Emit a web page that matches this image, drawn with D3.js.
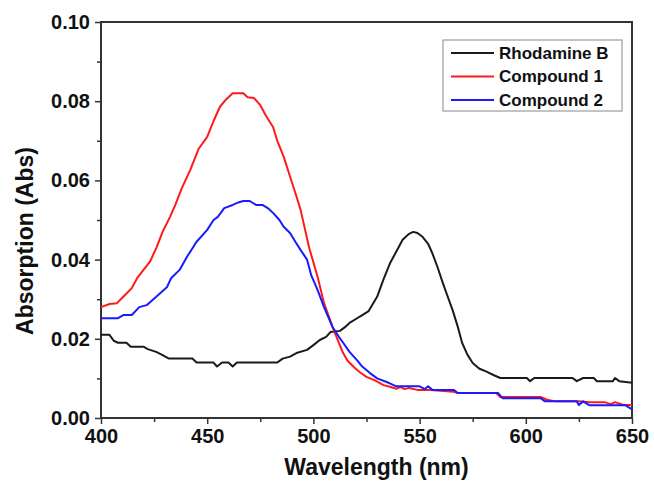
<!DOCTYPE html>
<html>
<head>
<meta charset="utf-8">
<script src="https://cdn.jsdelivr.net/npm/d3@7"></script>
<style>
  body { margin: 0; background: #fff; }
  text { font-family: Arial, "Liberation Sans", sans-serif; font-weight: bold; fill: #111; }
</style>
</head>
<body>
<script>
// Rhodamine B
var rhodWl = [400, 404, 406, 408, 412, 414, 420, 422, 426, 429, 432, 443, 445, 453, 454.6, 457, 460, 462, 464, 483,
  485.5, 489, 492, 497, 500, 503, 506, 508, 512.5, 515, 517, 520, 523, 526, 530, 533, 536, 539, 542, 545, 547, 549,
  551.5, 554, 556, 558.5, 561, 563, 565.5, 568, 570, 572.5, 575, 578, 581.5, 585, 588, 600.5, 602, 604, 622, 624,
  627, 632, 633.5, 641, 642, 644, 650];
var rhodAbs = [0.021, 0.021, 0.0195, 0.019, 0.019, 0.018, 0.018, 0.0174, 0.0167, 0.0159, 0.015, 0.015, 0.014, 0.014,
  0.013, 0.014, 0.014, 0.013, 0.014, 0.014, 0.015, 0.0155, 0.0164, 0.0172, 0.0184, 0.0197, 0.0205, 0.0217, 0.022,
  0.023, 0.024, 0.025, 0.026, 0.027, 0.0306, 0.035, 0.039, 0.042, 0.045, 0.0465, 0.047, 0.0467, 0.0457, 0.044,
  0.0416, 0.038, 0.034, 0.031, 0.0273, 0.023, 0.019, 0.016, 0.0139, 0.0125, 0.0117, 0.0108, 0.0101, 0.0101, 0.0093,
  0.0101, 0.0101, 0.0093, 0.0101, 0.0101, 0.0093, 0.0093, 0.0101, 0.0093, 0.0089];

// Compound 1
var comp1Wl = [400, 404, 407.5, 410.5, 414.5, 417, 420, 423, 426, 429, 432.5, 435, 438, 442, 446, 450, 453, 456, 459,
  462, 467, 469, 472, 475, 478, 481, 483, 486, 489, 492, 494, 498, 502, 505, 509, 512, 514, 516, 519, 522, 525, 529,
  533, 536, 539, 541, 543, 545, 549, 555, 566, 568, 586, 588, 607, 610, 614, 625, 630, 637, 640, 642, 646, 650];
var comp1Abs = [0.028, 0.0288, 0.029, 0.0306, 0.0328, 0.0353, 0.0374, 0.0394, 0.0429, 0.047, 0.0508, 0.0538, 0.058,
  0.0626, 0.068, 0.071, 0.075, 0.0786, 0.0805, 0.082, 0.082, 0.081, 0.0808, 0.079, 0.076, 0.0735, 0.07, 0.066,
  0.061, 0.056, 0.0525, 0.043, 0.0356, 0.029, 0.023, 0.019, 0.0164, 0.0145, 0.0129, 0.0115, 0.0104, 0.0095, 0.0083,
  0.0079, 0.0074, 0.0078, 0.0073, 0.0076, 0.0071, 0.0071, 0.0066, 0.0063, 0.0063, 0.0053, 0.0053, 0.0046, 0.0042,
  0.0042, 0.004, 0.004, 0.0035, 0.004, 0.0033, 0.0033];

// Compound 2
var comp2Wl = [400, 408, 410.5, 414.5, 418, 421.5, 426, 431, 433, 437, 440.5, 445, 450, 453, 455, 458, 462, 465, 467,
  470, 473, 476, 478.5, 481, 484, 486, 489, 491.5, 494, 497, 499, 502, 505, 509, 512, 514, 517, 520.5, 523, 526.5,
  530, 534.5, 537, 539, 550, 552.5, 554, 556, 566, 568, 587, 589, 607, 609, 624, 625, 627, 630, 647, 650];
var comp2Abs = [0.0252, 0.0252, 0.026, 0.026, 0.028, 0.0285, 0.0306, 0.033, 0.0353, 0.0374, 0.0407, 0.0445, 0.0475,
  0.05, 0.0508, 0.053, 0.0538, 0.0545, 0.0548, 0.0548, 0.0538, 0.0538, 0.053, 0.0518, 0.05, 0.0483, 0.0467, 0.0445,
  0.0424, 0.04, 0.036, 0.0323, 0.028, 0.023, 0.0205, 0.019, 0.0167, 0.0146, 0.013, 0.0114, 0.01, 0.0091, 0.0085,
  0.008, 0.008, 0.0073, 0.008, 0.0071, 0.0071, 0.0063, 0.0063, 0.005, 0.005, 0.0042, 0.0042, 0.0033, 0.0042, 0.0032,
  0.0032, 0.0022];

var seriesNames = ["Rhodamine B", "Compound 1", "Compound 2"];
var seriesColors = ["#1a1a1a", "#ff1a1a", "#1a1aff"];
var xTicks = [400, 450, 500, 550, 600, 650];
var yTicks = [0.00, 0.02, 0.04, 0.06, 0.08, 0.10];

var width = 654, height = 481;
var margin = {top: 22, right: 22, bottom: 63, left: 101};
var w = width - margin.left - margin.right,
    h = height - margin.top - margin.bottom;

var x = d3.scaleLinear().domain([400, 650]).range([0, w]);
var y = d3.scaleLinear().domain([0, 0.10]).range([h, 0]);

var svg = d3.select("body").append("svg")
  .attr("width", width)
  .attr("height", height)
  .append("g")
  .attr("transform", "translate(" + margin.left + "," + margin.top + ")");

// minor ticks
svg.append("g")
  .attr("transform", "translate(0," + h + ")")
  .call(d3.axisBottom(x).tickValues(d3.range(425, 650, 50)).tickSize(4).tickFormat(""))
  .call(function(g) { g.select(".domain").remove(); });
svg.append("g")
  .call(d3.axisLeft(y).tickValues(d3.range(0.01, 0.1, 0.02)).tickSize(4).tickFormat(""))
  .call(function(g) { g.select(".domain").remove(); });

var xAxis = svg.append("g")
  .attr("transform", "translate(0," + h + ")")
  .call(d3.axisBottom(x).tickValues(xTicks).tickSize(6).tickPadding(5).tickSizeOuter(0));
var yAxis = svg.append("g")
  .call(d3.axisLeft(y).tickValues(yTicks).tickFormat(d3.format(".2f")).tickSize(6).tickPadding(5).tickSizeOuter(0));

[xAxis, yAxis].forEach(function(g) {
  g.selectAll("text").style("font-size", "20px").style("font-family", "Arial, 'Liberation Sans', sans-serif")
    .style("font-weight", "bold").attr("fill", "#111");
});
svg.selectAll(".tick line").attr("stroke", "#333").attr("stroke-width", 1.5);

// frame
svg.append("rect")
  .attr("width", w).attr("height", h)
  .attr("fill", "none").attr("stroke", "#333").attr("stroke-width", 2);

var line = d3.line()
  .x(function(d) { return x(d[0]); })
  .y(function(d) { return y(d[1]); });

var datasets = [d3.zip(rhodWl, rhodAbs), d3.zip(comp1Wl, comp1Abs), d3.zip(comp2Wl, comp2Abs)];

datasets.forEach(function(data, i) {
  svg.append("path")
    .datum(data)
    .attr("fill", "none")
    .attr("stroke", seriesColors[i])
    .attr("stroke-width", 2)
    .attr("stroke-linejoin", "round")
    .attr("d", line);
});

// legend
var legend = svg.append("g").attr("transform", "translate(" + (443 - margin.left) + "," + (40 - margin.top) + ")");
legend.append("rect")
  .attr("width", 179).attr("height", 71)
  .attr("fill", "#fff").attr("stroke", "#888").attr("stroke-width", 1);
seriesNames.forEach(function(name, i) {
  var row = legend.append("g").attr("transform", "translate(0," + (13 + i * 23.5) + ")");
  row.append("line").attr("x1", 8).attr("x2", 51)
    .attr("stroke", seriesColors[i]).attr("stroke-width", 2);
  row.append("text").attr("x", 56).attr("dy", "0.35em")
    .style("font-size", "17px").text(name);
});

// axis titles
svg.append("text")
  .attr("x", w / 2 + 10).attr("y", h + 57)
  .attr("text-anchor", "middle")
  .style("font-size", "23px")
  .text("Wavelength (nm)");

svg.append("text")
  .attr("transform", "rotate(-90)")
  .attr("x", -h / 2 - 21).attr("y", -68)
  .attr("text-anchor", "middle")
  .style("font-size", "23px")
  .text("Absorption (Abs)");
</script>
</body>
</html>
